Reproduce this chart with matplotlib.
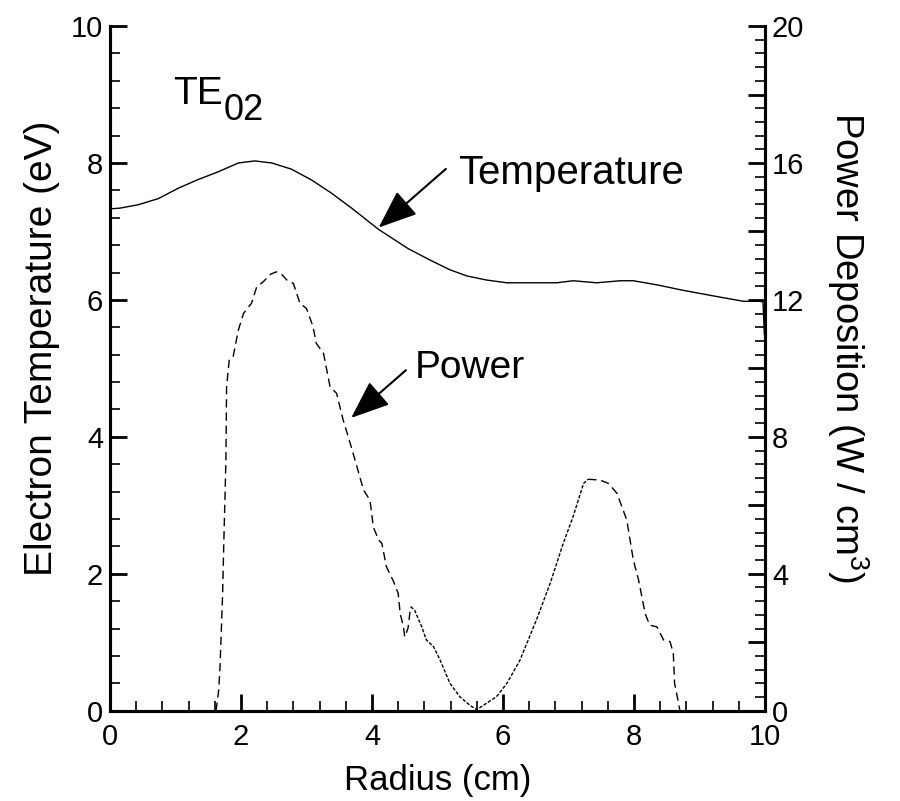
import numpy as np
import matplotlib
matplotlib.use("Agg")
import matplotlib.pyplot as plt
from matplotlib.ticker import MultipleLocator, FuncFormatter

plt.rcParams['font.family'] = ['Liberation Sans', 'DejaVu Sans']
plt.rcParams['mathtext.default'] = 'regular'

# electron temperature (left axis, eV)
temp_r = [0, 0.15, 0.43, 0.74, 1.04, 1.35, 1.65, 1.96, 2.21, 2.47,
          2.77, 3.08, 3.38, 3.69, 4.10, 4.55, 4.89, 5.19, 5.45, 5.75,
          6.06, 6.45, 6.82, 7.07, 7.43, 7.79, 7.99, 8.35, 8.75, 9.26,
          9.67, 9.92, 9.97, 9.99]
temp = [7.33, 7.34, 7.39, 7.48, 7.63, 7.76, 7.87, 8.00, 8.03, 8.00,
        7.91, 7.75, 7.56, 7.34, 7.03, 6.75, 6.58, 6.44, 6.35, 6.29,
        6.25, 6.25, 6.25, 6.28, 6.25, 6.28, 6.28, 6.22, 6.14, 6.05,
        5.98, 5.98, 5.97, 5.5]

# power deposition (right axis, W/cm^3)
pow_r = [1.62, 1.66, 1.68, 1.72, 1.74, 1.77, 1.78, 1.82, 1.88, 1.96,
         2.04, 2.16, 2.24, 2.34, 2.45, 2.54, 2.62, 2.70, 2.80, 2.90,
         3.00, 3.10, 3.15, 3.26, 3.36, 3.46, 3.56, 3.66, 3.77, 3.87,
         3.97, 4.02, 4.10, 4.15, 4.22, 4.33, 4.40, 4.43, 4.48, 4.50,
         4.55, 4.59, 4.65, 4.76, 4.83, 4.94, 5.04, 5.19, 5.34, 5.50,
         5.60, 5.75, 5.90, 6.06, 6.26, 6.51, 6.72, 6.92, 7.07, 7.23,
         7.30, 7.48, 7.61, 7.74, 7.89, 7.99, 8.07, 8.17, 8.24, 8.35,
         8.45, 8.55, 8.60, 8.62, 8.68, 8.70]
power = [0, 0.6, 1.29, 3.43, 5.08, 7.32, 9.46, 10.24, 10.34, 11.12,
         11.61, 11.90, 12.38, 12.53, 12.75, 12.82, 12.75, 12.58, 12.48, 11.90,
         11.75, 11.22, 10.73, 10.44, 9.46, 9.27, 8.49, 7.86, 7.13, 6.45,
         6.15, 5.37, 4.99, 4.89, 4.21, 3.77, 3.43, 2.84, 2.45, 2.16,
         2.41, 3.04, 2.94, 2.45, 2.07, 1.87, 1.48, 0.80, 0.41, 0.15,
         0.03, 0.22, 0.41, 0.80, 1.48, 2.65, 3.72, 4.89, 5.67, 6.64,
         6.76, 6.74, 6.64, 6.35, 5.57, 4.40, 3.82, 2.84, 2.50, 2.45,
         2.07, 2.02, 1.68, 0.80, 0.22, 0]

fig = plt.figure(figsize=(9, 8.01), dpi=100)
ax1 = fig.add_axes([0.1222, 0.1127, 0.7278, 0.8548])
ax2 = ax1.twinx()

ax1.plot(temp_r, temp, color='black', linewidth=1.0)

pr = np.array(pow_r)
pw = np.array(power)
a = pr <= 4.59
b = (pr >= 4.59) & (pr <= 7.30)
c = pr >= 7.30
ax2.plot(pr[a], pw[a], color='black', linewidth=1.0, linestyle=(0, (6, 3.5)))
ax2.plot(pr[b], pw[b], color='black', linewidth=1.0, linestyle=(0, (2.5, 1.2)))
ax2.plot(pr[c], pw[c], color='black', linewidth=1.0, linestyle=(0, (6, 3.5)))

ax1.set_xlim(0, 10)
ax1.set_ylim(0, 10)
ax2.set_ylim(0, 20)

ax1.xaxis.set_major_locator(MultipleLocator(2))
ax1.xaxis.set_minor_locator(MultipleLocator(0.4))
ax1.yaxis.set_major_locator(MultipleLocator(2))
ax1.yaxis.set_minor_locator(MultipleLocator(0.4))
ax2.yaxis.set_major_locator(MultipleLocator(2))
ax2.yaxis.set_minor_locator(MultipleLocator(0.4))
ax2.yaxis.set_major_formatter(FuncFormatter(lambda v, p: '%d' % v if int(round(v)) % 4 == 0 else ''))

for ax in (ax1, ax2):
    ax.spines['top'].set_visible(False)
    for s in ax.spines.values():
        s.set_linewidth(2.2)
    ax.tick_params(which='major', direction='in', length=12, width=2.0, labelsize=21, pad=5)
    ax.tick_params(which='minor', direction='in', length=7.5, width=1.2)
ax1.tick_params(axis='x', which='major', pad=9)
ax1.tick_params(top=False, right=False, which='both')
ax2.tick_params(axis='y', which='both', left=False)

ax1.set_xlabel("Radius (cm)", fontsize=25, labelpad=9)
ax1.set_ylabel("Electron Temperature (eV)", fontsize=28, labelpad=8)
ax2.set_ylabel("Power Deposition (W / cm$^{3}$)", fontsize=27.5, rotation=270, labelpad=48)
ax1.yaxis.label.set_y(0.53)
ax2.yaxis.label.set_y(0.53)

te = ax1.text(0.96, 8.86, "TE", fontsize=28, va='baseline')
ax1.annotate("02", xy=(1, 0), xycoords=te, xytext=(1, -6), textcoords='offset points',
             fontsize=26, va='baseline')

ax1.annotate("", xy=(4.07, 7.03), xytext=(5.16, 7.94),
             arrowprops=dict(arrowstyle='-|>,head_length=2.4,head_width=0.95', color='black', lw=1.5))
ax1.text(5.31, 7.70, "Temperature", fontsize=29, va='baseline')

ax1.annotate("", xy=(3.65, 4.25), xytext=(4.55, 5.0),
             arrowprops=dict(arrowstyle='-|>,head_length=2.4,head_width=0.95', color='black', lw=1.5))
ax1.text(4.66, 4.86, "Power", fontsize=28, va='baseline')

fig.savefig("out.png", dpi=100)
